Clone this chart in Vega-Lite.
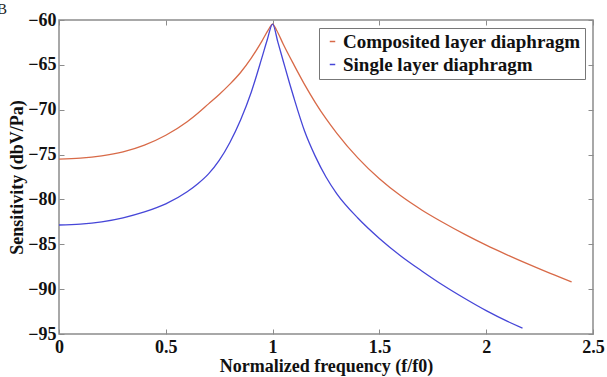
{
  "$schema": "https://vega.github.io/schema/vega-lite/v6.json",
  "autosize": "none",
  "width": 534,
  "height": 314,
  "padding": {"left": 59, "top": 20, "right": 14, "bottom": 43},
  "background": "white",
  "title": {"text": "B", "anchor": "start", "frame": "group", "orient": "top", "dx": -62, "dy": 10, "offset": 4, "fontSize": 15, "font": "Times New Roman, Liberation Serif, serif", "fontWeight": "normal", "color": "#222"},
  "data": {"values": [
    {"x": 0, "y": -75.5, "series": "Composited layer diaphragm"},
    {"x": 0.1, "y": -75.4, "series": "Composited layer diaphragm"},
    {"x": 0.2, "y": -75.15, "series": "Composited layer diaphragm"},
    {"x": 0.3, "y": -74.7, "series": "Composited layer diaphragm"},
    {"x": 0.4, "y": -73.95, "series": "Composited layer diaphragm"},
    {"x": 0.5, "y": -72.85, "series": "Composited layer diaphragm"},
    {"x": 0.6, "y": -71.35, "series": "Composited layer diaphragm"},
    {"x": 0.65, "y": -70.4, "series": "Composited layer diaphragm"},
    {"x": 0.7, "y": -69.35, "series": "Composited layer diaphragm"},
    {"x": 0.75, "y": -68.3, "series": "Composited layer diaphragm"},
    {"x": 0.8, "y": -67.15, "series": "Composited layer diaphragm"},
    {"x": 0.85, "y": -65.85, "series": "Composited layer diaphragm"},
    {"x": 0.9, "y": -64.25, "series": "Composited layer diaphragm"},
    {"x": 0.95, "y": -62.35, "series": "Composited layer diaphragm"},
    {"x": 0.98, "y": -61.1, "series": "Composited layer diaphragm"},
    {"x": 1.0, "y": -60.45, "series": "Composited layer diaphragm"},
    {"x": 1.02, "y": -61.2, "series": "Composited layer diaphragm"},
    {"x": 1.05, "y": -62.7, "series": "Composited layer diaphragm"},
    {"x": 1.1, "y": -65.0, "series": "Composited layer diaphragm"},
    {"x": 1.15, "y": -67.2, "series": "Composited layer diaphragm"},
    {"x": 1.2, "y": -69.2, "series": "Composited layer diaphragm"},
    {"x": 1.25, "y": -71.0, "series": "Composited layer diaphragm"},
    {"x": 1.3, "y": -72.6, "series": "Composited layer diaphragm"},
    {"x": 1.4, "y": -75.4, "series": "Composited layer diaphragm"},
    {"x": 1.5, "y": -77.7, "series": "Composited layer diaphragm"},
    {"x": 1.6, "y": -79.6, "series": "Composited layer diaphragm"},
    {"x": 1.7, "y": -81.2, "series": "Composited layer diaphragm"},
    {"x": 1.8, "y": -82.6, "series": "Composited layer diaphragm"},
    {"x": 1.9, "y": -83.9, "series": "Composited layer diaphragm"},
    {"x": 2.0, "y": -85.1, "series": "Composited layer diaphragm"},
    {"x": 2.1, "y": -86.2, "series": "Composited layer diaphragm"},
    {"x": 2.2, "y": -87.25, "series": "Composited layer diaphragm"},
    {"x": 2.3, "y": -88.25, "series": "Composited layer diaphragm"},
    {"x": 2.4, "y": -89.2, "series": "Composited layer diaphragm"},
    {"x": 0, "y": -82.85, "series": "Single layer diaphragm"},
    {"x": 0.1, "y": -82.75, "series": "Single layer diaphragm"},
    {"x": 0.2, "y": -82.5, "series": "Single layer diaphragm"},
    {"x": 0.3, "y": -82.05, "series": "Single layer diaphragm"},
    {"x": 0.4, "y": -81.4, "series": "Single layer diaphragm"},
    {"x": 0.5, "y": -80.5, "series": "Single layer diaphragm"},
    {"x": 0.6, "y": -79.15, "series": "Single layer diaphragm"},
    {"x": 0.65, "y": -78.25, "series": "Single layer diaphragm"},
    {"x": 0.7, "y": -77.15, "series": "Single layer diaphragm"},
    {"x": 0.75, "y": -75.65, "series": "Single layer diaphragm"},
    {"x": 0.8, "y": -73.65, "series": "Single layer diaphragm"},
    {"x": 0.85, "y": -71.15, "series": "Single layer diaphragm"},
    {"x": 0.9, "y": -68.05, "series": "Single layer diaphragm"},
    {"x": 0.95, "y": -64.2, "series": "Single layer diaphragm"},
    {"x": 0.975, "y": -62.2, "series": "Single layer diaphragm"},
    {"x": 1.0, "y": -60.45, "series": "Single layer diaphragm"},
    {"x": 1.025, "y": -62.5, "series": "Single layer diaphragm"},
    {"x": 1.05, "y": -64.6, "series": "Single layer diaphragm"},
    {"x": 1.08, "y": -67.1, "series": "Single layer diaphragm"},
    {"x": 1.1, "y": -68.7, "series": "Single layer diaphragm"},
    {"x": 1.15, "y": -72.4, "series": "Single layer diaphragm"},
    {"x": 1.2, "y": -75.2, "series": "Single layer diaphragm"},
    {"x": 1.25, "y": -77.5, "series": "Single layer diaphragm"},
    {"x": 1.3, "y": -79.35, "series": "Single layer diaphragm"},
    {"x": 1.4, "y": -82.1, "series": "Single layer diaphragm"},
    {"x": 1.5, "y": -84.35, "series": "Single layer diaphragm"},
    {"x": 1.6, "y": -86.3, "series": "Single layer diaphragm"},
    {"x": 1.7, "y": -88.0, "series": "Single layer diaphragm"},
    {"x": 1.8, "y": -89.6, "series": "Single layer diaphragm"},
    {"x": 1.9, "y": -91.05, "series": "Single layer diaphragm"},
    {"x": 2.0, "y": -92.4, "series": "Single layer diaphragm"},
    {"x": 2.1, "y": -93.6, "series": "Single layer diaphragm"},
    {"x": 2.17, "y": -94.35, "series": "Single layer diaphragm"}
  ]},
  "layer": [
    {
      "mark": {"type": "line", "strokeWidth": 1.3, "interpolate": "monotone"},
      "encoding": {
        "x": {"field": "x", "type": "quantitative", "scale": {"domain": [0, 2.5], "nice": false},
          "axis": {"values": [0, 0.5, 1, 1.5, 2, 2.5], "title": "Normalized frequency (f/f0)", "titlePadding": 1, "labelPadding": 9, "labelFlush": false, "labelOverlap": false, "format": "~g"}},
        "y": {"field": "y", "type": "quantitative", "scale": {"domain": [-95, -60], "nice": false, "zero": false},
          "axis": {"values": [-95, -90, -85, -80, -75, -70, -65, -60], "title": "Sensitivity (dbV/Pa)", "titlePadding": 1, "labelPadding": 8, "labelFlush": false, "labelOverlap": false}},
        "color": {"field": "series", "type": "nominal",
          "scale": {"domain": ["Composited layer diaphragm", "Single layer diaphragm"], "range": ["#d86a48", "#4646d8"]},
          "legend": {"title": null, "orient": "top-right", "offset": 8, "strokeColor": "#777", "fillColor": "white", "padding": 4, "symbolType": "stroke", "symbolSize": 30, "symbolStrokeWidth": 1.5, "labelFont": "Times New Roman, Liberation Serif, serif", "labelFontWeight": "bold", "labelFontSize": 19, "labelColor": "#111", "labelOffset": 1, "rowPadding": 3, "labelLimit": 400}}
      }
    },
    {
      "mark": {"type": "line", "opacity": 0},
      "encoding": {
        "x": {"field": "x", "type": "quantitative", "axis": {"orient": "top", "labels": false, "title": null, "values": [0, 0.5, 1, 1.5, 2, 2.5]}},
        "y": {"field": "y", "type": "quantitative", "axis": {"orient": "right", "labels": false, "title": null, "values": [-95, -90, -85, -80, -75, -70, -65, -60]}},
        "detail": {"field": "series"}
      }
    }
  ],
  "resolve": {"axis": {"x": "independent", "y": "independent"}},
  "config": {
    "view": {"stroke": "#8c8c8c", "strokeWidth": 1.5},
    "axis": {"grid": false, "domain": false, "tickSize": -5, "tickColor": "#8c8c8c", "tickWidth": 1,
      "labelFont": "Times New Roman, Liberation Serif, serif", "labelFontWeight": "bold", "labelFontSize": 18, "labelColor": "#111",
      "titleFont": "Times New Roman, Liberation Serif, serif", "titleFontWeight": "bold", "titleFontSize": 18, "titleColor": "#111"}
  }
}
